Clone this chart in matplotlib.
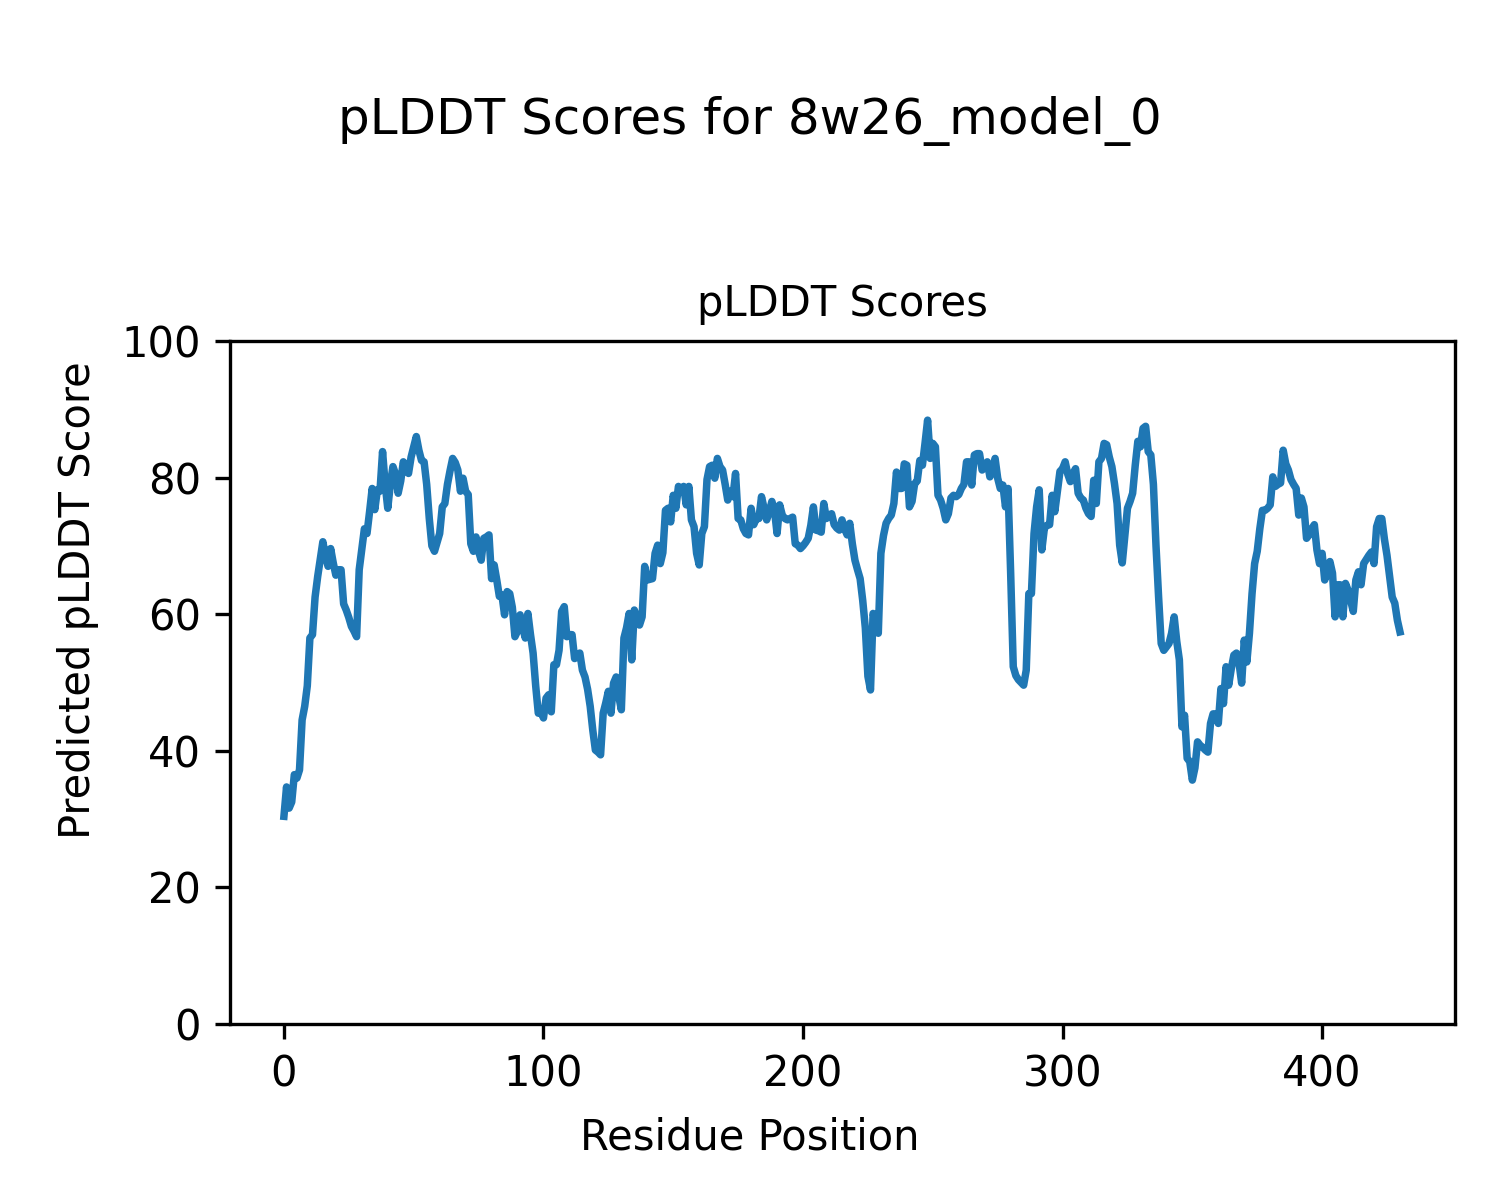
import matplotlib
matplotlib.use("Agg")
import matplotlib.pyplot as plt
import numpy as np

plddt = [
    30.4, 34.7, 31.6, 32.5, 36.5, 36.0, 37.2, 44.5, 46.5, 49.5,
    56.5, 57.0, 62.5, 65.5, 68.0, 70.6, 68.5, 67.0, 69.6, 67.5,
    65.7, 66.5, 66.5, 61.5, 60.6, 59.5, 58.2, 57.5, 56.7, 66.5,
    69.5, 72.5, 71.8, 75.0, 78.4, 75.3, 78.2, 78.0, 83.8, 79.0,
    75.5, 79.0, 81.6, 80.5, 77.7, 79.5, 82.3, 81.0, 80.6, 83.0,
    84.5, 86.0, 84.0, 82.5, 82.3, 79.0, 74.0, 70.0, 69.2, 70.5,
    71.8, 75.7, 76.2, 79.0, 81.0, 82.8, 82.2, 81.1, 78.0, 79.9,
    78.0, 77.5, 70.3, 69.2, 71.3, 69.2, 67.9, 71.1, 71.3, 71.6,
    65.2, 67.2, 65.0, 62.6, 62.8, 59.9, 63.3, 63.0, 61.0, 56.7,
    57.5, 59.9, 58.0, 56.5, 60.1, 57.0, 54.3, 49.5, 45.5, 45.7,
    44.8, 47.7, 48.2, 45.7, 52.6, 52.6, 54.7, 60.4, 61.1, 56.7,
    57.0, 57.0, 53.5, 53.8, 54.3, 51.8, 50.8, 49.0, 46.5, 43.0,
    40.1, 39.8, 39.4, 45.5, 47.0, 48.7, 45.5, 49.9, 50.8, 48.0,
    46.0, 56.5, 58.0, 60.1, 53.3, 60.6, 59.5, 58.4, 59.6, 67.0,
    65.0, 65.1, 65.2, 68.9, 70.1, 67.4, 69.0, 75.2, 75.5, 73.5,
    77.4, 75.5, 78.7, 78.0, 78.7, 76.0, 78.7, 73.8, 72.8, 68.9,
    67.2, 71.8, 72.8, 79.7, 81.6, 81.8, 79.9, 82.8, 81.6, 81.1,
    79.0, 76.7, 78.0, 77.2, 80.6, 74.0, 73.8, 72.5, 71.8, 71.6,
    75.5, 73.1, 74.0, 74.0, 77.2, 75.5, 73.8, 75.0, 76.5, 75.2,
    71.8, 76.0, 74.5, 74.0, 73.8, 74.0, 74.2, 70.3, 70.1, 69.6,
    70.0, 70.5, 71.1, 73.0, 75.7, 72.3, 72.2, 72.0, 76.2, 74.0,
    74.5, 74.7, 73.1, 72.6, 72.3, 73.8, 72.5, 71.6, 73.3, 70.3,
    67.9, 66.5, 65.2, 62.0, 58.0, 50.9, 48.9, 60.1, 59.0, 57.2,
    68.9, 71.5, 73.3, 74.0, 74.5, 76.2, 80.8, 78.4, 78.4, 82.0,
    81.8, 75.7, 76.5, 79.1, 79.5, 82.5, 81.8, 85.0, 88.4, 82.8,
    85.0, 84.5, 77.4, 76.7, 75.5, 73.8, 74.7, 77.0, 77.4, 77.2,
    77.5, 78.4, 79.0, 82.3, 82.3, 78.9, 83.3, 83.5, 83.5, 81.1,
    81.5, 82.3, 80.1, 81.0, 82.8, 79.9, 78.4, 78.9, 75.7, 78.4,
    66.0, 52.3, 51.0, 50.4, 50.0, 49.6, 51.8, 63.0, 63.0, 71.8,
    75.7, 78.2, 69.4, 72.6, 73.0, 73.1, 77.4, 75.0, 78.0, 80.9,
    81.3, 82.3, 80.5, 79.4, 80.6, 81.3, 77.7, 77.0, 76.7, 75.5,
    74.7, 74.3, 79.6, 76.2, 82.3, 82.8, 85.0, 84.8, 83.0, 81.6,
    79.1, 76.2, 70.1, 67.5, 71.5, 75.5, 76.5, 77.7, 81.8, 85.3,
    84.5, 87.2, 87.5, 83.8, 83.3, 79.0, 70.0, 62.5, 55.7, 54.7,
    55.2, 55.7, 57.2, 59.6, 56.0, 53.3, 43.5, 45.2, 38.9, 38.4,
    35.7, 37.5, 41.3, 40.8, 40.5, 40.1, 39.8, 44.0, 45.4, 45.4,
    44.0, 49.1, 46.9, 52.3, 49.6, 52.0, 54.0, 54.3, 52.8, 49.9,
    56.2, 53.0, 57.2, 63.0, 67.4, 69.2, 72.5, 75.2, 75.2, 75.5,
    76.0, 80.1, 78.7, 79.0, 79.2, 84.0, 82.0, 81.1, 79.7, 79.0,
    78.4, 74.5, 77.0, 75.7, 71.1, 71.6, 72.5, 73.1, 69.4, 67.4,
    68.9, 65.0, 66.0, 67.7, 66.0, 59.6, 64.3, 64.3, 59.6, 64.5,
    63.5, 62.0, 60.4, 65.0, 66.2, 64.3, 67.4, 68.0, 68.6, 69.1,
    67.4, 72.8, 74.0, 74.0, 71.0, 68.6, 65.5, 62.5, 61.6, 59.1,
    57.4,
]
residues = np.arange(len(plddt))

fig = plt.figure(figsize=(5, 4), dpi=300)
ax = fig.add_axes([0.1533, 0.1467, 0.8167, 0.5692])
ax.plot(residues, plddt, color="#1f77b4", linewidth=1.8)
ax.set_ylim(0, 100)
ax.set_xlim(-20.8, 451.2)
ax.set_title("pLDDT Scores", fontsize=10)
ax.tick_params(labelsize=10)
fig.supxlabel("Residue Position", fontsize=10, x=0.5, y=0.0517, va="center")
fig.supylabel("Predicted pLDDT Score", fontsize=10, x=0.052, y=0.5, ha="center", va="center")
fig.suptitle("pLDDT Scores for 8w26_model_0", fontsize=12, y=0.92)
fig.savefig("out.png", dpi=300)
